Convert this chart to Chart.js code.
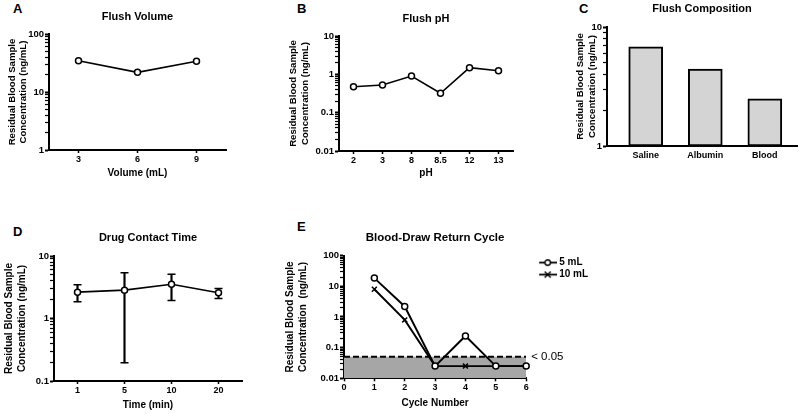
<!DOCTYPE html>
<html><head><meta charset="utf-8">
<script src="https://cdn.jsdelivr.net/npm/chart.js@4.4.0/dist/chart.umd.min.js"></script>
<style>
body{margin:0;background:#fff;width:800px;height:414px;position:relative;overflow:hidden;font-family:"Liberation Sans",Arial,sans-serif}
canvas{position:absolute}
.lab{position:absolute;font:bold 13px "Liberation Sans",Arial,sans-serif;line-height:13px;color:#000}
</style></head><body>
<div class="lab" style="left:13px;top:2px">A</div>
<div class="lab" style="left:297px;top:2px">B</div>
<div class="lab" style="left:579px;top:2px">C</div>
<div class="lab" style="left:13px;top:225px">D</div>
<div class="lab" style="left:297px;top:220px">E</div>
<canvas id="cA" width="236" height="179" style="left:0px;top:0px"></canvas>
<canvas id="cB" width="263" height="179" style="left:260px;top:0px"></canvas>
<canvas id="cC" width="270" height="166" style="left:530px;top:0px"></canvas>
<canvas id="cD" width="252" height="201" style="left:0px;top:210px"></canvas>
<canvas id="cE" width="330" height="199" style="left:270px;top:210px"></canvas>
<script>
// ---------- data ----------
const volumeCats = ['3', '6', '9'];
const volumeVals = [34.5, 21.8, 34];
const phCats = ['2', '3', '8', '8.5', '12', '13'];
const phVals = [0.475, 0.527, 0.905, 0.32, 1.49, 1.24];
const compCats = ['Saline', 'Albumin', 'Blood'];
const compVals = [6.8, 4.42, 2.49];
const timeCats = ['1', '5', '10', '20'];
const timeMean = [2.64, 2.84, 3.54, 2.58];
const timeLow = [1.85, 0.195, 1.94, 2.09];
const timeHigh = [3.46, 5.38, 5.12, 3.02];
const cycles = [1, 2, 3, 4, 5, 6];
const cycle5mL = [18.5, 2.2, 0.025, 0.24, 0.025, 0.025];
const cycle10mL = [8, 0.8, 0.025, 0.025, 0.025, 0.025];
const cutoffVal = 0.05;
const cutoffText = '< 0.05';
const cycleRange = [0, 6];
const yLabelsA = ['1', '10', '100'];
const yLabelsB = ['0.01', '0.1', '1', '10'];
const yLabelsC = ['1', '10'];
const yLabelsD = ['0.1', '1', '10'];
const yLabelsE = ['0.01', '0.1', '1', '10', '100'];
const xLabelsE = ['0', '1', '2', '3', '4', '5', '6'];
const yTitle = ['Residual Blood Sample', 'Concentration (ng/mL)'];
const yTitleE = ['Residual Blood Sample', 'Concentration  (ng/mL)'];

// ---------- helpers ----------
Chart.defaults.font.family = '"Liberation Sans", Arial, sans-serif';
Chart.defaults.color = '#000';
Chart.defaults.animation = false;

function logAxis(o) {
  const mn = parseFloat(o.labels[0]), mx = parseFloat(o.labels[o.labels.length - 1]);
  return {
    type: 'logarithmic', min: mn, max: mx,
    afterBuildTicks(s) {
      const t = [];
      const e0 = Math.round(Math.log10(mn)), e1 = Math.round(Math.log10(mx));
      for (let e = e0; e < e1; e++) for (let m = 1; m < 10; m++)
        t.push({ value: parseFloat((m * Math.pow(10, e)).toPrecision(6)), major: m === 1 });
      t.push({ value: mx, major: true });
      s.ticks = t;
    },
    afterFit(s) { s.width = o.width; },
    ticks: {
      autoSkip: false, padding: 1, color: '#000', font: { size: 9.5, weight: 'bold' },
      callback(v) {
        const l = o.labels.find(x => Math.abs(parseFloat(x) / v - 1) < 1e-6);
        return l === undefined ? '' : l;
      }
    },
    grid: { display: true, drawOnChartArea: false, drawTicks: true, tickLength: 4,
      tickColor: '#000', lineWidth: 1,
      tickWidth: c => (c.tick && c.tick.major) ? 2 : 1.2 },
    border: { display: true, color: '#000', width: 2 },
    title: { display: true, text: o.title || yTitle, color: '#000',
      font: { size: o.tsize || 9.6, weight: 'bold', lineHeight: o.lh },
      padding: { top: o.tpad, bottom: 0 } }
  };
}
function catAxis(o) {
  return {
    type: 'category', offset: true,
    afterFit(s) { s.height = o.height; },
    ticks: { autoSkip: false, maxRotation: 0, padding: 1, color: '#000', font: { size: 9, weight: 'bold' } },
    grid: { offset: false, drawOnChartArea: false, drawTicks: true, tickLength: 3, tickColor: '#000', tickWidth: 1.5 },
    border: { display: true, color: '#000', width: 2 },
    title: { display: !!o.title, text: o.title, color: '#000', font: { size: 10, weight: 'bold', lineHeight: 1.2 }, padding: 0 }
  };
}
function chartTitle(text, top, bottom, size) {
  return { display: true, text, fullSize: false, color: '#000',
    font: { size: size || 11, weight: 'bold', lineHeight: 1.2 }, padding: { top, bottom } };
}
function lineSet(data, extra) {
  return Object.assign({ type: 'line', data, borderColor: '#000', borderWidth: 1.6,
    pointRadius: 3, pointBorderWidth: 1.5, pointBackgroundColor: '#fff', pointBorderColor: '#000',
    pointStyle: 'circle', fill: false, tension: 0, clip: false, order: 0 }, extra || {});
}

// ---------- A ----------
new Chart(document.getElementById('cA'), {
  type: 'line',
  data: { labels: volumeCats, datasets: [lineSet(volumeVals)] },
  options: {
    responsive: false, layout: { padding: { left: 0, top: 0, right: 10, bottom: 0 } },
    plugins: { legend: { display: false }, tooltip: { enabled: false }, title: chartTitle('Flush Volume', 10.4, 10.4) },
    scales: {
      x: catAxis({ height: 29, title: 'Volume (mL)' }),
      y: logAxis({ labels: yLabelsA, width: 49, lh: 1.22, tpad: 6.2 })
    }
  }
});

// ---------- B ----------
new Chart(document.getElementById('cB'), {
  type: 'line',
  data: { labels: phCats, datasets: [lineSet(phVals)] },
  options: {
    responsive: false, layout: { padding: { left: 0, top: 0, right: 10, bottom: 0 } },
    plugins: { legend: { display: false }, tooltip: { enabled: false }, title: chartTitle('Flush pH', 12.4, 10.4) },
    scales: {
      x: catAxis({ height: 28, title: 'pH' }),
      y: logAxis({ labels: yLabelsB, width: 79, lh: 1.25, tpad: 27 })
    }
  }
});

// ---------- C ----------
new Chart(document.getElementById('cC'), {
  type: 'bar',
  data: { datasets: [{ data: compVals.map((v, i) => ({ x: i, y: v })), backgroundColor: '#d4d4d4',
    borderColor: '#000', borderWidth: 2, borderSkipped: false, barThickness: 34 }] },
  options: {
    responsive: false, layout: { padding: { left: 0, top: 0, right: 3, bottom: 0 } },
    plugins: { legend: { display: false }, tooltip: { enabled: false }, title: chartTitle('Flush Composition', 2.5, 11.3) },
    scales: {
      x: {
        type: 'linear', min: -0.65, max: 2.54, offset: false,
        afterBuildTicks(s) { s.ticks = compCats.map((c, i) => ({ value: i })); },
        afterFit(s) { s.height = 20; },
        ticks: { autoSkip: false, maxRotation: 0, padding: 4, color: '#000', font: { size: 9, weight: 'bold' },
          callback: v => compCats[v] },
        grid: { drawOnChartArea: false, drawTicks: false },
        border: { display: true, color: '#000', width: 2 }
      },
      y: logAxis({ labels: yLabelsC, width: 77, lh: 1.25, tpad: 44 })
    }
  }
});

// ---------- D ----------
new Chart(document.getElementById('cD'), {
  type: 'line',
  data: { labels: timeCats, datasets: [
    lineSet(timeMean, { order: 0 }),
    { type: 'bar', data: timeLow.map((l, i) => [l, timeHigh[i]]), backgroundColor: '#000', borderWidth: 0,
      barThickness: 1.5, order: 1 },
    { type: 'line', data: timeHigh, showLine: false, pointStyle: 'line', pointRadius: 4, pointBorderWidth: 1.5,
      pointBorderColor: '#000', order: 2 },
    { type: 'line', data: timeLow, showLine: false, pointStyle: 'line', pointRadius: 4, pointBorderWidth: 1.5,
      pointBorderColor: '#000', order: 2 }
  ] },
  options: {
    responsive: false, layout: { padding: { left: 0, top: 0, right: 10, bottom: 0 } },
    plugins: { legend: { display: false }, tooltip: { enabled: false }, title: chartTitle('Drug Contact Time', 21.4, 11.4) },
    scales: {
      x: catAxis({ height: 30, title: 'Time (min)' }),
      y: logAxis({ labels: yLabelsD, width: 54, lh: 1.3, tpad: 2.5, tsize: 10 })
    }
  }
});

// ---------- E ----------
function glyph(style) {
  const c = document.createElement('canvas'); c.width = 18; c.height = 9;
  const g = c.getContext('2d');
  g.strokeStyle = '#000'; g.lineWidth = 1.8;
  g.beginPath(); g.moveTo(0, 4.5); g.lineTo(18, 4.5); g.stroke();
  g.lineWidth = 1.4;
  if (style === 'circle') {
    g.beginPath(); g.arc(9, 4.5, 2.7, 0, Math.PI * 2); g.fillStyle = '#fff'; g.fill(); g.stroke();
  } else {
    g.beginPath(); g.moveTo(6, 1.5); g.lineTo(12, 7.5); g.moveTo(12, 1.5); g.lineTo(6, 7.5); g.stroke();
  }
  return c;
}
const cutoffLabel = {
  id: 'cutoffLabel',
  afterDraw(chart) {
    const { ctx, chartArea, scales } = chart;
    const y = scales.y.getPixelForValue(cutoffVal);
    ctx.save();
    ctx.font = '11.5px "Liberation Sans", Arial, sans-serif';
    ctx.fillStyle = '#000'; ctx.textBaseline = 'middle'; ctx.textAlign = 'left';
    ctx.fillText(cutoffText, chartArea.right + 5, y);
    ctx.restore();
  }
};
new Chart(document.getElementById('cE'), {
  type: 'line',
  data: { datasets: [
    lineSet(cycles.map((c, i) => ({ x: c, y: cycle5mL[i] })), { label: '5 mL', borderWidth: 1.9, order: 0 }),
    lineSet(cycles.map((c, i) => ({ x: c, y: cycle10mL[i] })), { label: '10 mL', borderWidth: 1.9, pointStyle: 'crossRot', pointRadius: 3.5, order: 1 }),
    { type: 'line', label: 'cutoff', data: cycleRange.map(x => ({ x, y: cutoffVal })), borderColor: '#000',
      borderWidth: 2, borderDash: [6, 3], pointRadius: 0, fill: 'start', backgroundColor: '#a6a6a6', order: 5 }
  ] },
  options: {
    responsive: false, layout: { padding: { left: 0, top: 0, right: 7, bottom: 0 } },
    plugins: {
      tooltip: { enabled: false },
      title: chartTitle('Blood-Draw Return Cycle', 21.4, 10.4, 11.5),
      legend: {
        display: true, position: 'right', align: 'start', fullSize: false,
        labels: {
          usePointStyle: true, pointStyleWidth: 13, padding: 2, color: '#000',
          font: { size: 10, weight: 'bold', lineHeight: 1.2 },
          generateLabels: () => [
            { text: '5 mL', pointStyle: glyph('circle'), datasetIndex: 0, hidden: false, lineWidth: 0, fontColor: '#000' },
            { text: '10 mL', pointStyle: glyph('cross'), datasetIndex: 1, hidden: false, lineWidth: 0, fontColor: '#000' }
          ]
        }
      }
    },
    scales: {
      x: {
        type: 'linear', min: cycleRange[0], max: cycleRange[1],
        afterBuildTicks(s) { s.ticks = xLabelsE.map(l => ({ value: parseFloat(l) })); },
        afterFit(s) { s.height = 30.7; },
        ticks: { autoSkip: false, maxRotation: 0, padding: 1, color: '#000', font: { size: 9, weight: 'bold' },
          callback: v => xLabelsE[v] },
        grid: { drawOnChartArea: false, drawTicks: true, tickLength: 3, tickColor: '#000', tickWidth: 1.5 },
        border: { display: true, color: '#000', width: 2 },
        title: { display: true, text: 'Cycle Number', color: '#000', font: { size: 10, weight: 'bold', lineHeight: 1.2 }, padding: 0 }
      },
      y: logAxis({ labels: yLabelsE, width: 74, lh: 1.26, tpad: 14.4, tsize: 10, title: yTitleE }),
      y2: { type: 'linear', position: 'right', display: true, grid: { display: false },
        border: { display: false }, ticks: { display: false }, afterFit(s) { s.width = 13; } }
    }
  },
  plugins: [cutoffLabel]
});
</script>
</body></html>
